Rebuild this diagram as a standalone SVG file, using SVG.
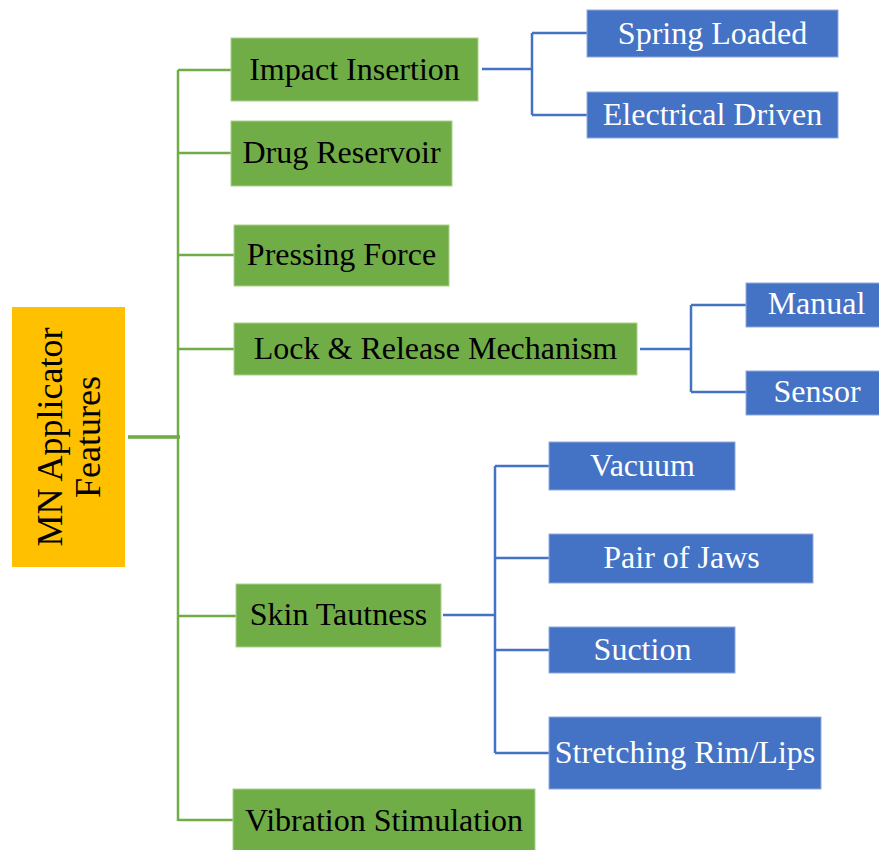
<svg xmlns="http://www.w3.org/2000/svg" width="879" height="850" viewBox="0 0 879 850">
<style>
.g{fill:#70AD47;stroke:#A9D18E;stroke-width:1}
.b{fill:#4472C4;stroke:#8FAADC;stroke-width:1}
.t{font-family:"Liberation Serif","Times New Roman",serif;font-size:32px;text-anchor:middle}
.tk{fill:#000}
.tw{fill:#fff}
.cg{stroke:#70AD47;stroke-width:2.5;fill:none}
.cb{stroke:#4472C4;stroke-width:2.5;fill:none}
</style>
<rect width="879" height="850" fill="#fff"/>
<g id="connectors">
<path class="cg" d="M128 437H179M178 70V821M178 70H231M178 153H231M178 255H234M178 349H234M178 616H236M178 820H233" style="stroke-width:2.5"/>
<path class="cg" d="M128 437H180" style="stroke-width:3.5"/>
<path class="cb" d="M482 69H532M532 33V115M532 33H587M532 115H587"/>
<path class="cb" d="M640 349H691M691 305V392M691 305H746M691 392H746"/>
<path class="cb" d="M443 615H495M495 466V753M495 466H549M495 558H549M495 650H549M495 753H549"/>
</g>
<g id="root">
<rect x="12" y="307" width="113" height="260" fill="#FFC000"/>
<text transform="translate(68 437) rotate(-90)" style="font-family:'Liberation Serif','Times New Roman',serif;font-size:36px;text-anchor:middle" fill="#000"><tspan x="0" y="-6">MN Applicator</tspan><tspan x="0" y="32">Features</tspan></text>
</g>
<g id="impact-insertion"><rect class="g" x="231" y="38" width="247" height="63"/><text class="t tk" x="354.5" y="80">Impact Insertion</text></g>
<g id="drug-reservoir"><rect class="g" x="231" y="121" width="221" height="65"/><text class="t tk" x="341.5" y="163">Drug Reservoir</text></g>
<g id="pressing-force"><rect class="g" x="234" y="225" width="215" height="61"/><text class="t tk" x="341.5" y="265">Pressing Force</text></g>
<g id="lock-release"><rect class="g" x="234" y="323" width="403" height="52"/><text class="t tk" x="435.5" y="359">Lock &amp; Release Mechanism</text></g>
<g id="skin-tautness"><rect class="g" x="236" y="584" width="205" height="63"/><text class="t tk" x="338.5" y="625">Skin Tautness</text></g>
<g id="vibration-stimulation"><rect class="g" x="233" y="789" width="302" height="64"/><text class="t tk" x="384" y="831">Vibration Stimulation</text></g>
<g id="spring-loaded"><rect class="b" x="587" y="10" width="251" height="47"/><text class="t tw" x="712.5" y="44">Spring Loaded</text></g>
<g id="electrical-driven"><rect class="b" x="587" y="92" width="251" height="46"/><text class="t tw" x="712.5" y="125">Electrical Driven</text></g>
<g id="manual"><rect class="b" x="746" y="283" width="141" height="44"/><text class="t tw" x="816.5" y="314">Manual</text></g>
<g id="sensor"><rect class="b" x="746" y="371" width="141" height="44"/><text class="t tw" x="817" y="402">Sensor</text></g>
<g id="vacuum"><rect class="b" x="549" y="442" width="186" height="48"/><text class="t tw" x="642.5" y="476">Vacuum</text></g>
<g id="pair-of-jaws"><rect class="b" x="549" y="534" width="264" height="49"/><text class="t tw" x="681.5" y="568">Pair of Jaws</text></g>
<g id="suction"><rect class="b" x="549" y="627" width="186" height="46"/><text class="t tw" x="642.5" y="660">Suction</text></g>
<g id="stretching-rim-lips"><rect class="b" x="549" y="717" width="272" height="72"/><text class="t tw" x="685" y="763">Stretching Rim/Lips</text></g>
</svg>
